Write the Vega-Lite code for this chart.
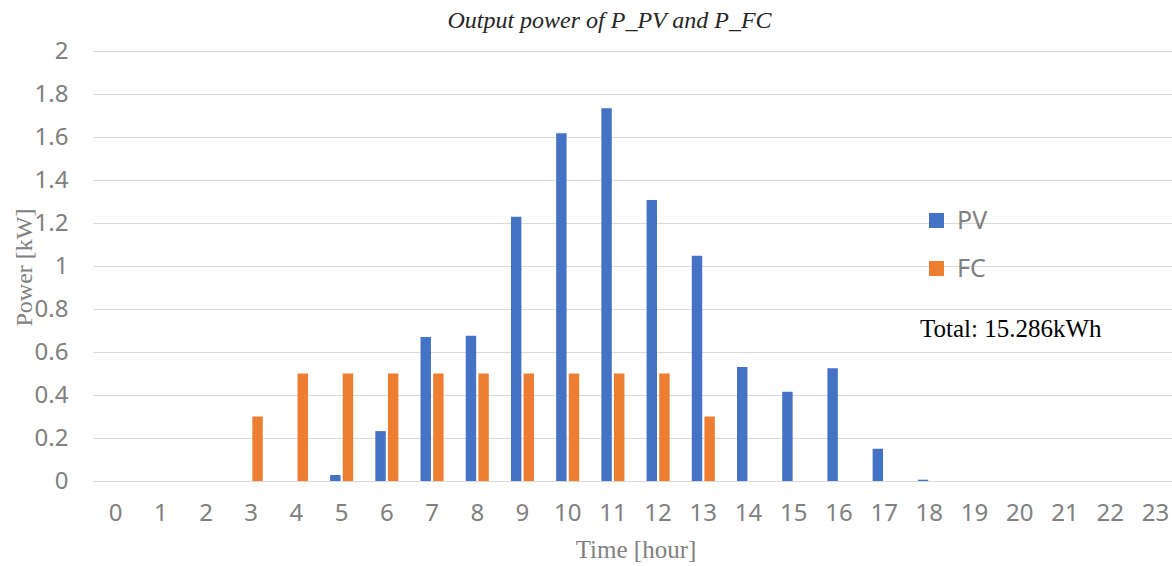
{
  "$schema": "https://vega.github.io/schema/vega-lite/v6.json",
  "width": 1085,
  "height": 430,
  "autosize": {"type": "none"},
  "padding": {"left": 93, "top": 51, "right": 0, "bottom": 85},
  "background": "white",
  "title": {
    "text": "Output power of P_PV and P_FC",
    "font": "Liberation Serif",
    "fontStyle": "italic",
    "fontWeight": "normal",
    "fontSize": 24,
    "color": "#262626",
    "anchor": "middle",
    "frame": "group",
    "baseline": "bottom",
    "offset": 14,
    "dx": -26,
    "dy": 32
  },
  "config": {
    "view": {"stroke": null},
    "axis": {"gridColor": "#d9d9d9", "domainColor": "#d9d9d9"}
  },
  "data": {
    "values": [
      {"hour": 0, "series": "PV", "power": 0}, {"hour": 0, "series": "FC", "power": 0},
      {"hour": 1, "series": "PV", "power": 0}, {"hour": 1, "series": "FC", "power": 0},
      {"hour": 2, "series": "PV", "power": 0}, {"hour": 2, "series": "FC", "power": 0},
      {"hour": 3, "series": "PV", "power": 0}, {"hour": 3, "series": "FC", "power": 0.3},
      {"hour": 4, "series": "PV", "power": 0}, {"hour": 4, "series": "FC", "power": 0.5},
      {"hour": 5, "series": "PV", "power": 0.028}, {"hour": 5, "series": "FC", "power": 0.5},
      {"hour": 6, "series": "PV", "power": 0.232}, {"hour": 6, "series": "FC", "power": 0.5},
      {"hour": 7, "series": "PV", "power": 0.67}, {"hour": 7, "series": "FC", "power": 0.5},
      {"hour": 8, "series": "PV", "power": 0.676}, {"hour": 8, "series": "FC", "power": 0.5},
      {"hour": 9, "series": "PV", "power": 1.229}, {"hour": 9, "series": "FC", "power": 0.5},
      {"hour": 10, "series": "PV", "power": 1.617}, {"hour": 10, "series": "FC", "power": 0.5},
      {"hour": 11, "series": "PV", "power": 1.734}, {"hour": 11, "series": "FC", "power": 0.5},
      {"hour": 12, "series": "PV", "power": 1.307}, {"hour": 12, "series": "FC", "power": 0.5},
      {"hour": 13, "series": "PV", "power": 1.048}, {"hour": 13, "series": "FC", "power": 0.3},
      {"hour": 14, "series": "PV", "power": 0.53}, {"hour": 14, "series": "FC", "power": 0},
      {"hour": 15, "series": "PV", "power": 0.415}, {"hour": 15, "series": "FC", "power": 0},
      {"hour": 16, "series": "PV", "power": 0.524}, {"hour": 16, "series": "FC", "power": 0},
      {"hour": 17, "series": "PV", "power": 0.15}, {"hour": 17, "series": "FC", "power": 0},
      {"hour": 18, "series": "PV", "power": 0.006}, {"hour": 18, "series": "FC", "power": 0},
      {"hour": 19, "series": "PV", "power": 0}, {"hour": 19, "series": "FC", "power": 0},
      {"hour": 20, "series": "PV", "power": 0}, {"hour": 20, "series": "FC", "power": 0},
      {"hour": 21, "series": "PV", "power": 0}, {"hour": 21, "series": "FC", "power": 0},
      {"hour": 22, "series": "PV", "power": 0}, {"hour": 22, "series": "FC", "power": 0},
      {"hour": 23, "series": "PV", "power": 0}, {"hour": 23, "series": "FC", "power": 0}
    ]
  },
  "layer": [
    {
      "mark": {"type": "bar"},
      "encoding": {
        "x": {
          "field": "hour",
          "type": "ordinal",
          "scale": {"paddingInner": 0.49, "paddingOuter": 0.245},
          "axis": {
            "title": "Time [hour]",
            "titleFont": "Liberation Serif",
            "titleFontWeight": "normal",
            "titleFontSize": 25,
            "titleColor": "#808080",
            "titleBaseline": "alphabetic",
            "titleY": 76,
            "labelAngle": 0,
            "labelFont": "Noto Sans",
            "labelFontSize": 24,
            "labelColor": "#808080",
            "labelPadding": 20,
            "ticks": false,
            "domain": true,
            "domainColor": "#d9d9d9",
            "grid": false
          }
        },
        "xOffset": {
          "field": "series",
          "type": "nominal",
          "sort": ["PV", "FC"],
          "scale": {"paddingInner": 0.175, "paddingOuter": 0}
        },
        "y": {
          "field": "power",
          "type": "quantitative",
          "scale": {"domain": [0, 2], "nice": false},
          "axis": {
            "title": "Power [kW]",
            "titleFont": "Liberation Serif",
            "titleFontWeight": "normal",
            "titleFontSize": 24,
            "titleColor": "#808080",
            "titleAngle": -90,
            "titleBaseline": "alphabetic",
            "titleX": -62,
            "titleY": 216,
            "values": [0, 0.2, 0.4, 0.6, 0.8, 1, 1.2, 1.4, 1.6, 1.8, 2],
            "labelExpr": "datum.value == 0 ? '0' : format(datum.value, '.1~f')",
            "labelFont": "Noto Sans",
            "labelFontSize": 24,
            "labelColor": "#808080",
            "labelPadding": 25,
            "ticks": false,
            "domain": false,
            "grid": true,
            "gridColor": "#d9d9d9"
          }
        },
        "color": {
          "field": "series",
          "type": "nominal",
          "sort": ["PV", "FC"],
          "scale": {"domain": ["PV", "FC"], "range": ["#4472C4", "#ED7D31"]},
          "legend": {
            "title": null,
            "orient": "none",
            "legendX": 831,
            "legendY": 157,
            "symbolType": "square",
            "symbolSize": 225,
            "symbolStrokeWidth": 0,
            "labelFont": "Noto Sans",
            "labelFontSize": 25,
            "labelColor": "#808080",
            "labelOffset": 8,
            "rowPadding": 22
          }
        }
      }
    },
    {
      "data": {"values": [{"label": "Total: 15.286kWh"}]},
      "mark": {
        "type": "text",
        "font": "Liberation Serif",
        "fontSize": 25,
        "fill": "#000000",
        "align": "center",
        "baseline": "alphabetic",
        "dx": -9
      },
      "encoding": {
        "text": {"field": "label"},
        "x": {"datum": 20, "type": "ordinal"},
        "y": {"datum": 0.67, "type": "quantitative"}
      }
    }
  ]
}
